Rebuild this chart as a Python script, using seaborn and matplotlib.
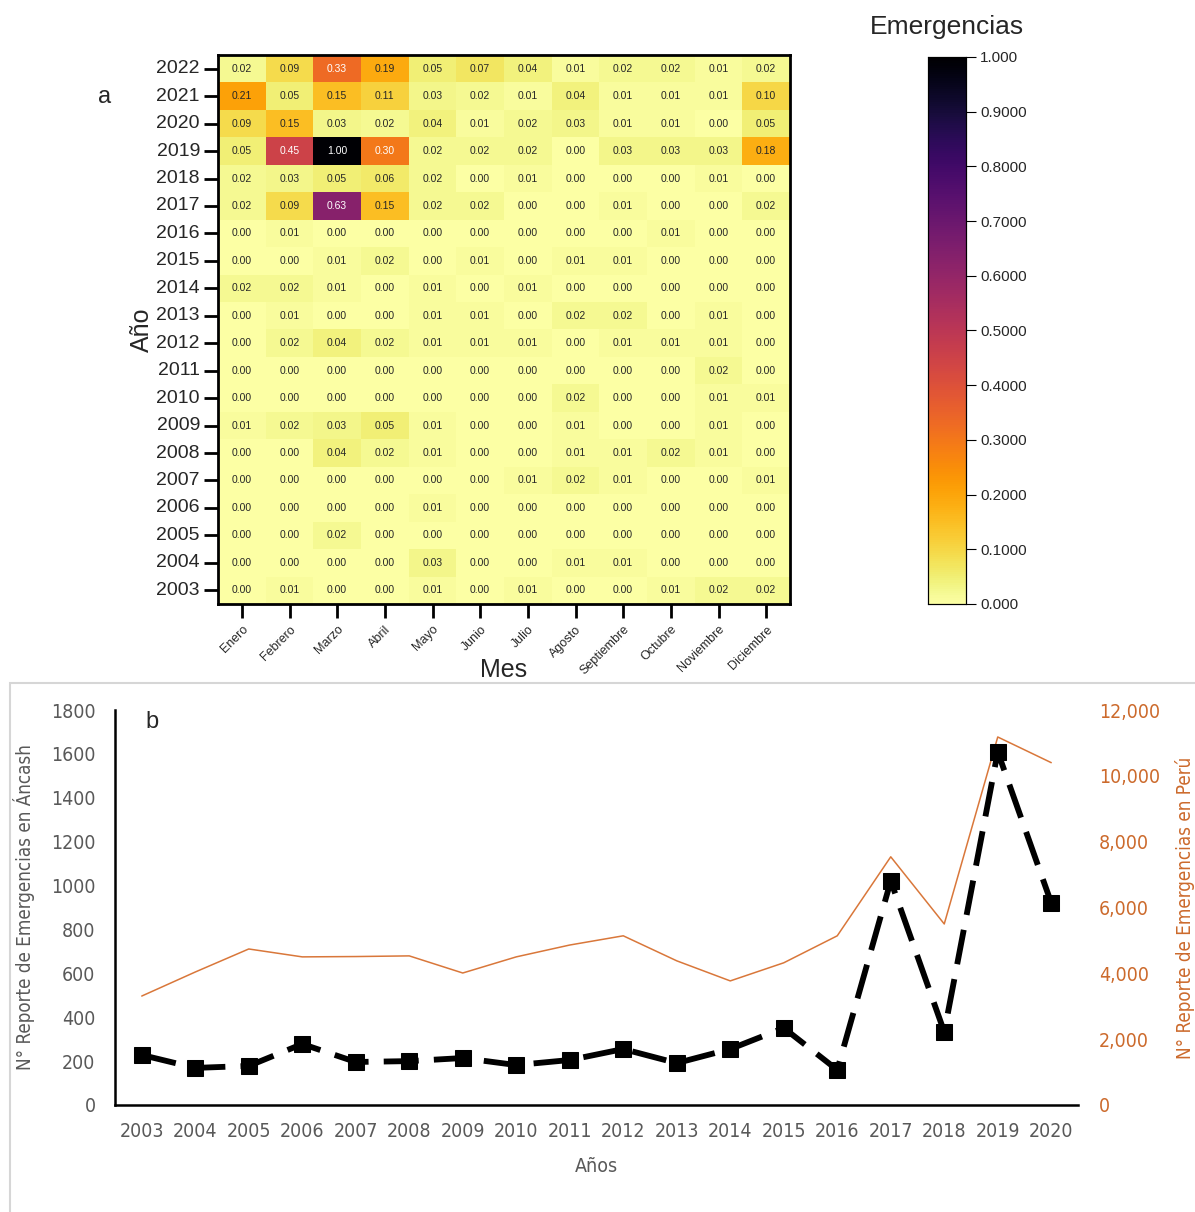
import numpy as np
import pandas as pd
import matplotlib
matplotlib.use("Agg")
import matplotlib.pyplot as plt
import seaborn as sns
from matplotlib.patches import Rectangle
from matplotlib.ticker import FuncFormatter

# ---------------- data ----------------
years_heat = [2022, 2021, 2020, 2019, 2018, 2017, 2016, 2015, 2014, 2013,
              2012, 2011, 2010, 2009, 2008, 2007, 2006, 2005, 2004, 2003]
months = ["Enero", "Febrero", "Marzo", "Abril", "Mayo", "Junio", "Julio",
          "Agosto", "Septiembre", "Octubre", "Noviembre", "Diciembre"]
emerg = [
    [0.02, 0.09, 0.33, 0.19, 0.05, 0.07, 0.04, 0.01, 0.02, 0.02, 0.01, 0.02],
    [0.21, 0.05, 0.15, 0.11, 0.03, 0.02, 0.01, 0.04, 0.01, 0.01, 0.01, 0.10],
    [0.09, 0.15, 0.03, 0.02, 0.04, 0.01, 0.02, 0.03, 0.01, 0.01, 0.00, 0.05],
    [0.05, 0.45, 1.00, 0.30, 0.02, 0.02, 0.02, 0.00, 0.03, 0.03, 0.03, 0.18],
    [0.02, 0.03, 0.05, 0.06, 0.02, 0.00, 0.01, 0.00, 0.00, 0.00, 0.01, 0.00],
    [0.02, 0.09, 0.63, 0.15, 0.02, 0.02, 0.00, 0.00, 0.01, 0.00, 0.00, 0.02],
    [0.00, 0.01, 0.00, 0.00, 0.00, 0.00, 0.00, 0.00, 0.00, 0.01, 0.00, 0.00],
    [0.00, 0.00, 0.01, 0.02, 0.00, 0.01, 0.00, 0.01, 0.01, 0.00, 0.00, 0.00],
    [0.02, 0.02, 0.01, 0.00, 0.01, 0.00, 0.01, 0.00, 0.00, 0.00, 0.00, 0.00],
    [0.00, 0.01, 0.00, 0.00, 0.01, 0.01, 0.00, 0.02, 0.02, 0.00, 0.01, 0.00],
    [0.00, 0.02, 0.04, 0.02, 0.01, 0.01, 0.01, 0.00, 0.01, 0.01, 0.01, 0.00],
    [0.00, 0.00, 0.00, 0.00, 0.00, 0.00, 0.00, 0.00, 0.00, 0.00, 0.02, 0.00],
    [0.00, 0.00, 0.00, 0.00, 0.00, 0.00, 0.00, 0.02, 0.00, 0.00, 0.01, 0.01],
    [0.01, 0.02, 0.03, 0.05, 0.01, 0.00, 0.00, 0.01, 0.00, 0.00, 0.01, 0.00],
    [0.00, 0.00, 0.04, 0.02, 0.01, 0.00, 0.00, 0.01, 0.01, 0.02, 0.01, 0.00],
    [0.00, 0.00, 0.00, 0.00, 0.00, 0.00, 0.01, 0.02, 0.01, 0.00, 0.00, 0.01],
    [0.00, 0.00, 0.00, 0.00, 0.01, 0.00, 0.00, 0.00, 0.00, 0.00, 0.00, 0.00],
    [0.00, 0.00, 0.02, 0.00, 0.00, 0.00, 0.00, 0.00, 0.00, 0.00, 0.00, 0.00],
    [0.00, 0.00, 0.00, 0.00, 0.03, 0.00, 0.00, 0.01, 0.01, 0.00, 0.00, 0.00],
    [0.00, 0.01, 0.00, 0.00, 0.01, 0.00, 0.01, 0.00, 0.00, 0.01, 0.02, 0.02],
]
cbar_ticks = [0.0, 0.1, 0.2, 0.3, 0.4, 0.5, 0.6, 0.7, 0.8, 0.9, 1.0]
cbar_labels = ["0.000", "0.1000", "0.2000", "0.3000", "0.4000", "0.5000",
               "0.6000", "0.7000", "0.8000", "0.9000", "1.000"]

years_line = [2003, 2004, 2005, 2006, 2007, 2008, 2009, 2010, 2011,
              2012, 2013, 2014, 2015, 2016, 2017, 2018, 2019, 2020]
ancash = [228, 169, 178, 278, 196, 200, 214, 182, 205,
          255, 191, 255, 351, 160, 1021, 333, 1609, 921]
peru = [3310, 4040, 4740, 4500, 4510, 4530, 4010, 4500, 4860,
        5140, 4380, 3770, 4320, 5140, 7540, 5500, 11180, 10400]

# ---------------- style ----------------
sns.set_theme(style="white")
plt.rcParams['font.family'] = ['Liberation Sans', 'DejaVu Sans']
NARROW = dict(family=['DejaVu Sans'], stretch='condensed')
GRAY = '#595959'
ORANGE = '#D9773A'
ORANGE_TXT = '#CC6A2C'

fig = plt.figure(figsize=(11.95, 12.12), dpi=100)

# ---------------- panel a: heatmap ----------------
ax1 = fig.add_axes([218/1195, 1-604/1212, (790-218)/1195, (604-55)/1212])
cax = fig.add_axes([928/1195, 1-604/1212, 38/1195, (604-57)/1212])
df = pd.DataFrame(emerg, index=years_heat, columns=months)
sns.heatmap(df, ax=ax1, cbar_ax=cax, cmap='inferno_r', vmin=0, vmax=1,
            annot=True, fmt='.2f', annot_kws={'size': 7.5},
            cbar_kws={'ticks': cbar_ticks})
for s in ax1.spines.values():
    s.set_visible(True)
    s.set_linewidth(2)
    s.set_color('black')
ax1.tick_params(axis='both', which='major', length=10, width=2, color='black',
                left=True, bottom=True, direction='out')
ax1.tick_params(axis='y', labelsize=14, pad=3)
ax1.tick_params(axis='x', labelsize=9, pad=4)
ax1.set_yticklabels([str(y) for y in years_heat], rotation=0)
ax1.set_xticklabels(months, rotation=45, ha='right', rotation_mode='anchor')
ax1.set_xlabel('Mes', fontsize=18, labelpad=-14)
ax1.set_ylabel('Año', fontsize=18, labelpad=2)
fig.text(105/1195, 1-97/1212, 'a', fontsize=17, ha='center', va='center')

cax.set_yticks(cbar_ticks)
cax.set_yticklabels(cbar_labels)
cax.tick_params(axis='y', length=7, width=0.8, color='black', labelsize=11,
                right=True, direction='out', pad=3)
for s in cax.spines.values():
    s.set_visible(True)
    s.set_linewidth(0.8)
    s.set_color('black')
fig.text(947/1195, 1-27/1212, 'Emergencias', fontsize=19, ha='center',
         va='center')

# ---------------- panel b: lines ----------------
fig.patches.append(Rectangle((10/1195, -0.01), 1.0, (1212-683)/1212 + 0.01,
                             transform=fig.transFigure, fill=False,
                             edgecolor='#D6D6D6', linewidth=1.5))

ax2 = fig.add_axes([115/1195, 1-1105/1212, (1078-115)/1195, (1105-710)/1212])
ax3 = ax2.twinx()

sns.lineplot(x=years_line, y=peru, ax=ax3, color=ORANGE, linewidth=1.1)
sns.lineplot(x=years_line, y=ancash, ax=ax2, color='black', linewidth=4.2,
             marker='s', markersize=11, markeredgecolor='black',
             markerfacecolor='black')
ax2.lines[0].set_dashes([6, 2.6])
ax2.set_zorder(ax3.get_zorder() + 1)
ax2.patch.set_visible(False)

ax2.set_xlim(2002.5, 2020.5)
ax2.set_ylim(0, 1800)
ax3.set_ylim(0, 12000)
ax2.set_xticks(years_line)
ax2.set_yticks(range(0, 1801, 200))
ax3.set_yticks(range(0, 12001, 2000))
ax3.yaxis.set_major_formatter(FuncFormatter(lambda v, p: f"{int(v):,}"))

for s in ['top', 'right']:
    ax2.spines[s].set_visible(False)
for s in ax2.spines.values():
    s.set_color('black')
    s.set_linewidth(1.8)
for s in ax3.spines.values():
    s.set_visible(False)

ax2.tick_params(axis='both', length=0)
ax3.tick_params(axis='both', length=0)
ax2.tick_params(axis='y', pad=14, labelcolor=GRAY, labelsize=14)
ax2.tick_params(axis='x', pad=12, labelcolor=GRAY, labelsize=14)
ax3.tick_params(axis='y', pad=15, labelcolor=ORANGE_TXT, labelsize=14)
for lab in ax2.get_xticklabels() + ax2.get_yticklabels() + ax3.get_yticklabels():
    lab.set_family(NARROW['family'])
    lab.set_stretch(NARROW['stretch'])

ax2.set_xlabel('Años', fontsize=14, color=GRAY, labelpad=12, **NARROW)
ax2.set_ylabel('N° Reporte de Emergencias en Áncash', fontsize=13.5,
               color=GRAY, **NARROW)
ax3.set_ylabel('N° Reporte de Emergencias en Perú', fontsize=13.5,
               color=ORANGE_TXT, rotation=90, **NARROW)
ax2.yaxis.set_label_coords((35 - 115) / 963, 0.5)
ax3.yaxis.set_label_coords((1175 - 115) / 963, 0.5)
fig.text(152/1195, 1-722/1212, 'b', fontsize=17, ha='center', va='center')

fig.savefig('out.png', dpi=100)
